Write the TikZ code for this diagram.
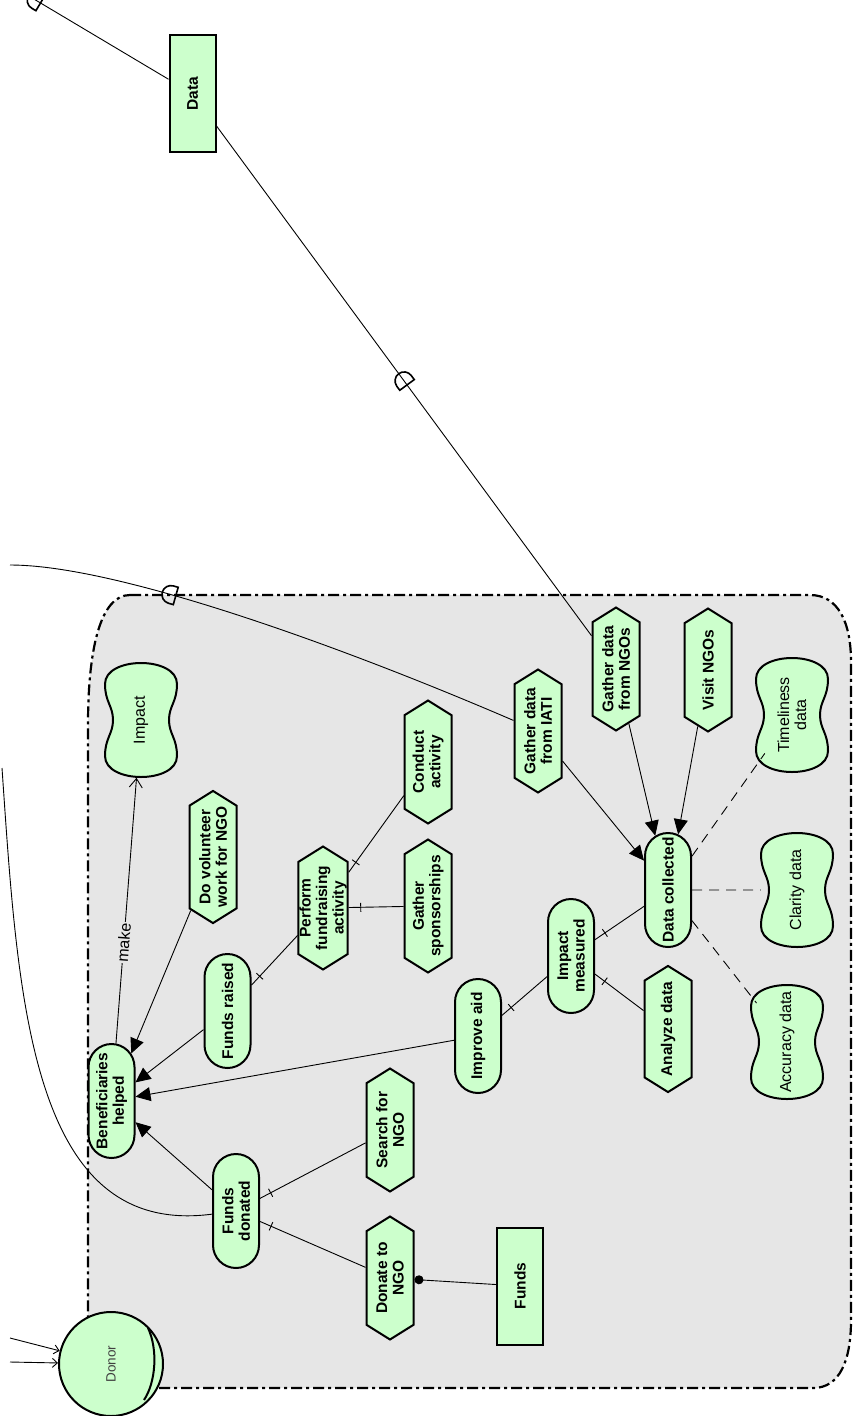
\documentclass[tikz,border=0pt]{standalone}
\usepackage{fontspec}
\setmainfont{Liberation Sans}
\usetikzlibrary{arrows.meta,shapes.misc,shapes.symbols,shapes.geometric,decorations.markings}
\definecolor{istargreen}{RGB}{204,255,204}
\definecolor{boundgray}{RGB}{230,230,230}
% softgoal: peanut outline first, label node on top of it
\newcommand{\softgoal}[3]{%
  \filldraw[sgshape,shift={(#2)}]
    (-36,-36) .. controls (-36,-64) and (36,-64) .. (36,-36)
    .. controls (36,-18) and (28,-14) .. (28,0)
    .. controls (28,14) and (36,18) .. (36,36)
    .. controls (36,64) and (-36,64) .. (-36,36)
    .. controls (-36,18) and (-28,14) .. (-28,0)
    .. controls (-28,-14) and (-36,-18) .. cycle;
  \node[sgtext] (#1) at (#2) {#3};}

\begin{document}
\begin{tikzpicture}[x=1pt,y=-1pt,
  istar/.style={draw,line width=2pt,fill=istargreen,rotate=90,align=center,
    inner sep=1pt,font=\bfseries\fontsize{15.5}{16.5}\selectfont},
  goal/.style={istar,rounded rectangle,minimum width=116pt,minimum height=46pt},
  task/.style={istar,signal,signal to=east and west,signal pointer angle=116,
    minimum width=123pt,minimum height=47pt},
  resource/.style={istar,rectangle,minimum width=117pt,minimum height=46pt},
  sgshape/.style={fill=istargreen,draw,line width=2pt},
  sgtext/.style={ellipse,rotate=90,minimum width=116pt,minimum height=72pt,
    align=center,inner sep=0pt,font=\fontsize{16}{17}\selectfont},
  link/.style={line width=0.9pt},
  orref/.style={link,-{Triangle[length=15pt,width=14pt]}},
  andref/.style={link,postaction=decorate,decoration={markings,
    mark=at position -12pt with {\draw[link] (0pt,-4.5pt) -- (0pt,4.5pt);}}},
  contrib/.style={link,-{Straight Barb[length=9pt,width=13pt]}},
  inlink/.style={link,-{Straight Barb[length=5pt,width=9pt]}},
  neededby/.style={link,-{Circle[length=9pt]}},
  qualif/.style={link,dash pattern=on 10pt off 7pt},
  depend/.style={link,postaction=decorate,decoration={markings,
    mark=at position #1 with {\draw[line width=1.6pt] (-5pt,-9pt) -- (-5pt,9pt)
      -- (0pt,9pt) arc[start angle=90,end angle=-90,radius=9pt] -- cycle;}}},
  boundary/.style={fill=boundgray,line width=2.2pt,
    dash pattern=on 11pt off 4pt on 3pt off 4pt}]
  \useasboundingbox (0,0) rectangle (853,1416);
  \clip (0,0) rectangle (853,1416);

  % actor boundary
  \draw[boundary] (130,595) -- (810,595) .. controls (838,595) and (851,622) .. (851,662)
    -- (851,1320) .. controls (851,1360) and (840,1388) .. (813,1388)
    -- (150,1388) .. controls (110,1388) and (88,1360) .. (88,1312)
    -- (88,725) .. controls (88,650) and (100,595) .. cycle;

  % goals
  \node[goal] (bh) at (111.5,1101) {Beneficiaries\\helped};
  \node[goal] (fr) at (227.5,1011) {Funds raised};
  \node[goal] (fd) at (236,1211) {Funds\\donated};
  \node[goal] (ia) at (478,1036) {Improve aid};
  \node[goal] (im) at (571,956) {Impact\\measured};
  \node[goal] (dc) at (668,890) {Data collected};

  % tasks
  \node[task] (vol) at (213,857) {Do volunteer\\work for NGO};
  \node[task] (pfa) at (323,908) {Perform\\fundraising\\activity};
  \node[task] (ca) at (428,762) {Conduct\\activity};
  \node[task] (gs) at (428,906) {Gather\\sponsorships};
  \node[task] (iati) at (538,731) {Gather data\\from IATI};
  \node[task] (ngos) at (616,669) {Gather data\\from NGOs};
  \node[task] (visit) at (708,670) {Visit NGOs};
  \node[task] (ad) at (668,1029) {Analyze data};
  \node[task] (search) at (390,1130) {Search for\\NGO};
  \node[task] (donate) at (390,1278) {Donate to\\NGO};

  % resources
  \node[resource] (data) at (192.5,93.5) {Data};
  \node[resource] (funds) at (520,1286) {Funds};

  % softgoals
  \softgoal{impact}{141,720}{Impact}
  \softgoal{time}{792,715}{Timeliness\\data}
  \softgoal{clar}{797,890}{Clarity data}
  \softgoal{acc}{787,1042}{Accuracy data}

  % the role
  \node[circle,draw,line width=2pt,fill=istargreen,minimum size=104pt,rotate=90,
    font=\fontsize{13.5}{15}\selectfont,text=black!75] (donor) at (111,1364) {Donor};
  \draw[line width=2pt,shift={(donor.center)}]
    (37,-36) .. controls (47,-15) and (45,18) .. (33,36);

  % refinements
  \draw[orref] (vol) -- (bh);
  \draw[orref] (fr) -- (bh);
  \draw[orref] (ia) -- (bh);
  \draw[orref] (fd) -- (bh);
  \draw[orref] (iati) -- (dc);
  \draw[orref] (ngos) -- (dc);
  \draw[orref] (visit) -- (dc);
  \draw[andref] (pfa) -- (fr);
  \draw[andref] (ca) -- (pfa);
  \draw[andref] (gs) -- (pfa);
  \draw[andref] (im) -- (ia);
  \draw[andref] (dc) -- (im);
  \draw[andref] (ad) -- (im);
  \draw[andref] (search) -- (fd);
  \draw[andref] (donate) -- (fd);
  \draw[neededby] (funds) -- (donate);
  \draw[contrib] (bh) -- node[sloped,pos=0.38,fill=boundgray,inner sep=1pt,
    font=\fontsize{16}{17}\selectfont] {make} (impact);
  \draw[qualif] (dc) -- (time);
  \draw[qualif] (dc) -- (clar);
  \draw[qualif] (dc) -- (acc);

  % dependencies leaving the boundary
  \coordinate (farData) at (-40,-45);
  \coordinate (farIati) at (10,565);
  \coordinate (farFunds) at (2,768);
  \draw[depend=0.5] (ngos) -- (data);
  \draw[depend=154pt] (data) -- (farData);
  \draw[depend=0.69] (iati) .. controls (350,650) and (120,565) .. (farIati);
  \draw[link] (fd) .. controls (30,1238) and (18,1000) .. (farFunds);

  % into the role
  \coordinate (inA) at (10,1338);
  \coordinate (inB) at (10,1362);
  \draw[inlink] (inA) -- (donor);
  \draw[inlink] (inB) -- (donor);
\end{tikzpicture}
\end{document}
